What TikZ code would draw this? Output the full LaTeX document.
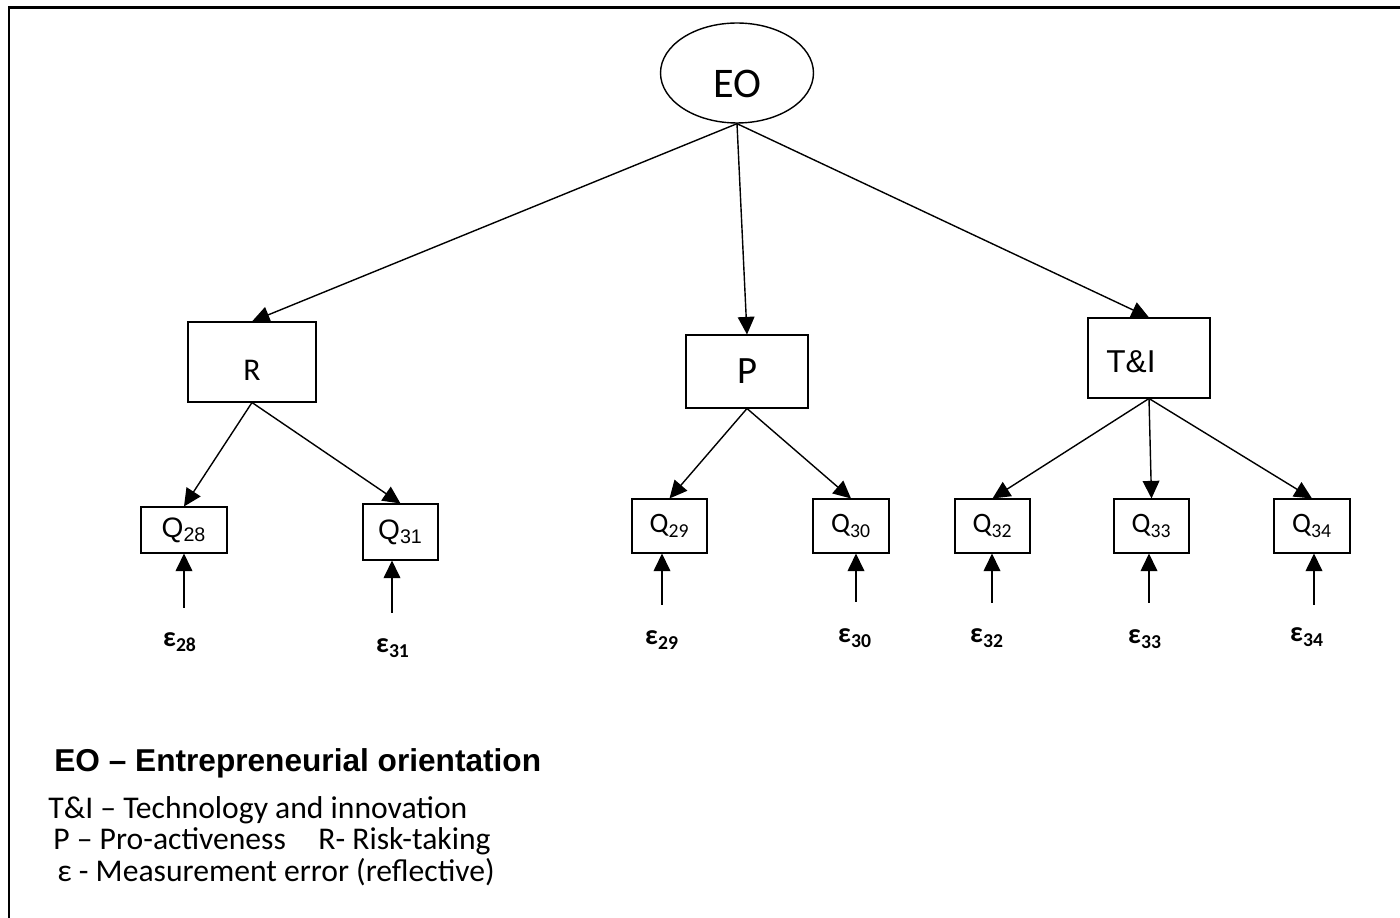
\documentclass[tikz,border=0pt]{standalone}
\usepackage{fontspec}
\setmainfont{Carlito}
\newfontfamily\arialfont{Liberation Sans}
\usetikzlibrary{arrows.meta,shapes.geometric}

\tikzset{
    arr/.style={line width=0.8pt, -{Triangle[length=10pt,width=9.5pt]}},
    box/.style={draw, line width=0.6pt, inner sep=0pt},
    errlabel/.style={inner sep=0pt, font=\bfseries\fontsize{16}{19}\selectfont},
    legend/.style={anchor=base west, inner sep=0pt, font=\fontsize{18}{22}\selectfont}
}

\begin{document}
\begin{tikzpicture}[x=0.02cm, y=-0.02cm]
    \useasboundingbox (0,0) rectangle (1400,918);
    \draw[line width=1.3pt] (9,918) -- (9,7.5) -- (1400,7.5);

    % latent construct and its dimensions
    \node[draw, ellipse, line width=0.8pt, minimum width=3.06cm, minimum height=2cm, inner sep=0pt,
          label={[font=\fontsize{24}{28}\selectfont, yshift=-0.22cm]center:EO}] (EO) at (737,73) {};
    \node[box, minimum width=2.56cm, minimum height=1.6cm,
          label={[font=\fontsize{18}{22}\selectfont, yshift=-0.16cm]center:R}] (R) at (252,362) {};
    \node[box, minimum width=2.44cm, minimum height=1.46cm, font=\fontsize{22}{26}\selectfont] (P) at (747,371.5) {P};
    \node[box, minimum width=2.44cm, minimum height=1.6cm,
          label={[font=\arialfont\fontsize{18}{22}\selectfont, xshift=-0.36cm, yshift=-0.08cm]center:T\&I}] (TI) at (1149,358) {};

    \draw[arr] (EO.south) -- (R.north);
    \draw[arr] (EO.south) -- (P.north);
    \draw[arr] (EO.south) -- (TI.north);

    % items
    \foreach \n/\x/\y/\w/\h/\f in {28/184/530/1.72/0.92/\arialfont, 31/400.5/532/1.5/1.12/\arialfont,
                                   29/669.5/526/1.5/1.08/, 30/851/526/1.52/1.08/,
                                   32/992.5/526/1.5/1.08/, 33/1151.5/526/1.5/1.08/,
                                   34/1312/526/1.52/1.08/}{
        \node[box, minimum width=\w cm, minimum height=\h cm, font=\f\fontsize{16}{19}\selectfont] (q\n) at (\x,\y) {Q\textsubscript{\n}};
    }

    \foreach \q in {28,31}{
        \draw[arr] (R.south) -- (q\q.north);
    }
    \foreach \q in {29,30}{
        \draw[arr] (P.south) -- (q\q.north);
    }
    \foreach \q in {32,33,34}{
        \draw[arr] (TI.south) -- (q\q.north);
    }

    % measurement errors
    \foreach \n/\x/\y/\lx/\ly in {28/184/608/180/642, 31/392/613/393/648, 29/662/605/662/640,
                                  30/856/602/855/638, 32/992/603/987/638, 33/1149/603/1145/639,
                                  34/1314/605/1307/637}{
        \coordinate (s\n) at (\x,\y);
        \node[errlabel] (e\n) at (\lx,\ly) {ε\textsubscript{\n}};
        \draw[arr] (s\n) -- (s\n |- q\n.south);
    }

    % legend
    \node[legend, font=\arialfont\bfseries\fontsize{18}{22}\selectfont] (leg0) at (54,771) {EO – Entrepreneurial orientation};
    \node[legend] (leg1) at (48,818) {T\&I – Technology and innovation};
    \node[legend] (leg2) at (53,849) {P – Pro-activeness\hspace{0.8em} R- Risk-taking};
    \node[legend] (leg3) at (57,881) {ε - Measurement error (reflective)};
\end{tikzpicture}
\end{document}
